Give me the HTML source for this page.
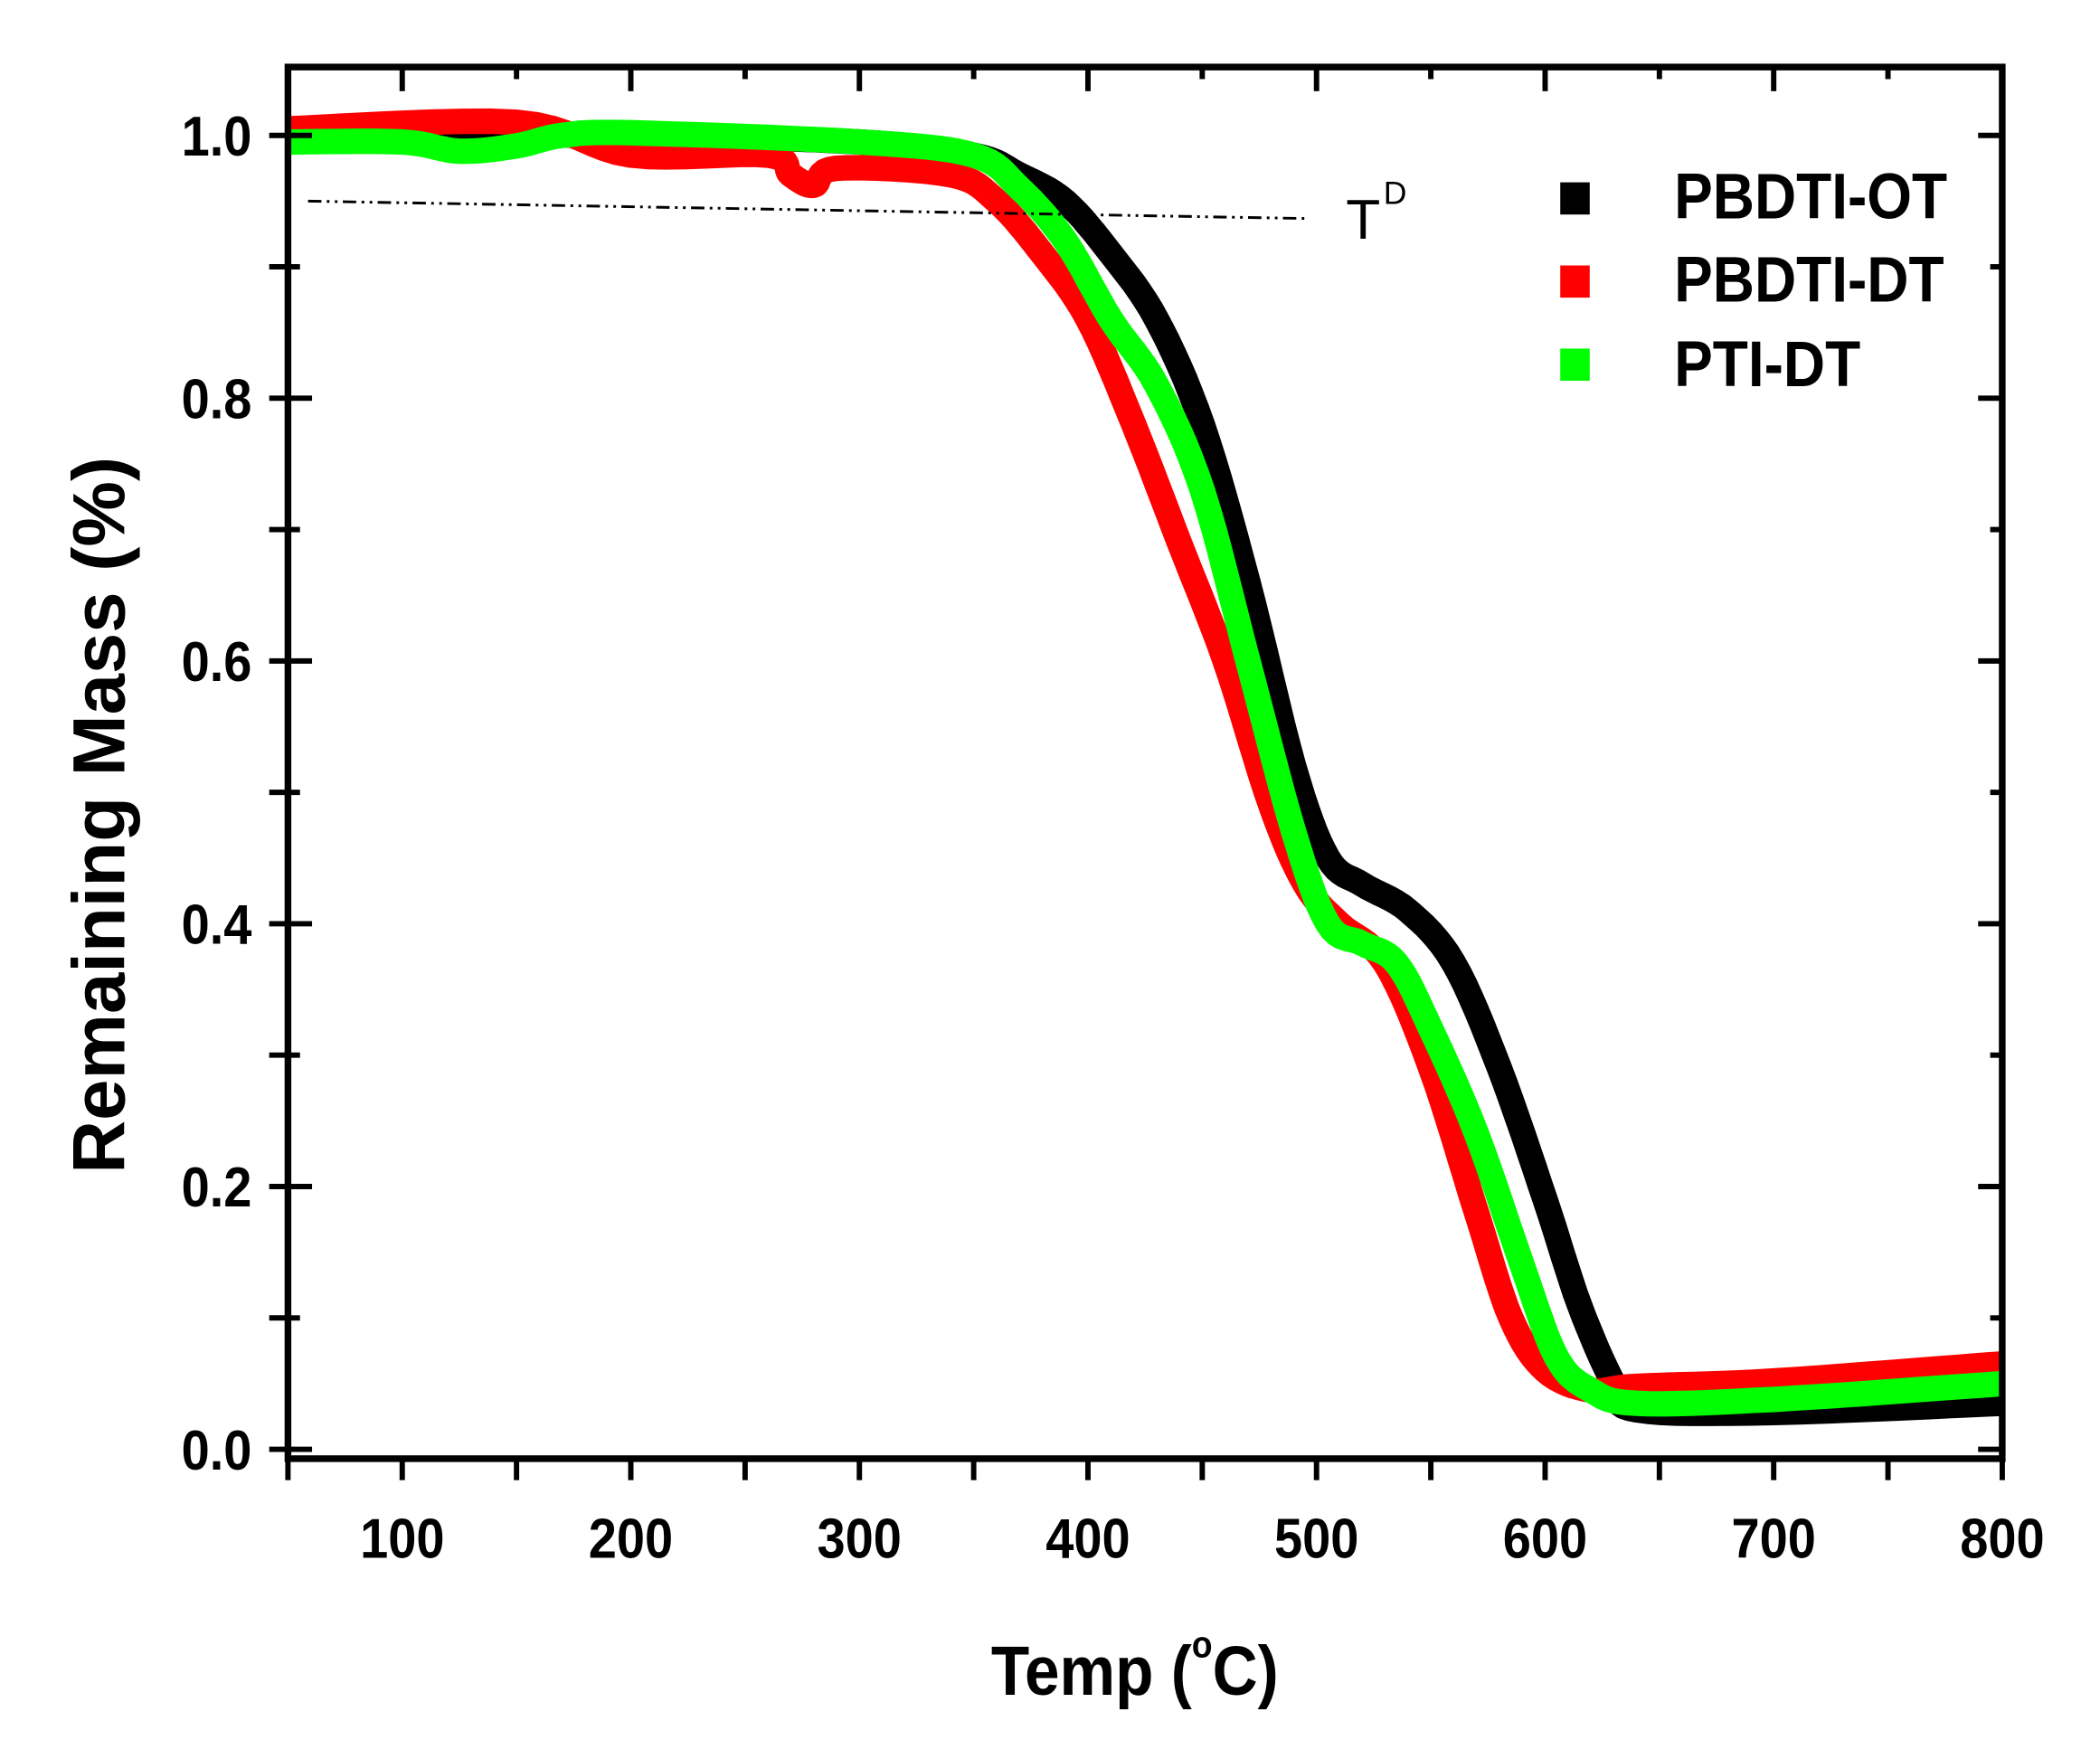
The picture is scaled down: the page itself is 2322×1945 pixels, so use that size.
<!DOCTYPE html>
<html><head><meta charset="utf-8"><style>html,body{margin:0;padding:0;background:#fff}svg{display:block}</style></head>
<body>
<svg id="s" width="2322" height="1945" viewBox="0 0 1568 1312" preserveAspectRatio="none" xmlns="http://www.w3.org/2000/svg" font-family="Liberation Sans, Arial, sans-serif">
<rect width="1568" height="1312" fill="#fff"/>
<g id="curves" fill="none" stroke-width="19" stroke-linejoin="round" stroke-linecap="butt"></g>
<line x1="230" y1="150" x2="976" y2="163" stroke="#000" stroke-width="2" stroke-dasharray="10,4,2,4,2,4"/>
<text x="1005" y="178" font-size="42" fill="#000">T</text>
<text x="1033" y="152" font-size="24" fill="#000">D</text>
<rect x="215" y="50" width="1280" height="1038" fill="none" stroke="#000" stroke-width="5"/>
<g id="ticks" stroke="#000" stroke-width="4"></g>
<g font-weight="bold" font-size="42" fill="#000" text-anchor="end" id="ylab"></g>
<g font-weight="bold" font-size="42" fill="#000" text-anchor="middle" id="xlab"></g>
<rect x="1165" y="136" width="22" height="24" fill="#000"/>
<rect x="1165" y="198" width="22" height="24" fill="#f00"/>
<rect x="1165" y="260" width="22" height="24" fill="#0f0"/>
<g font-weight="bold" font-size="48" fill="#000" transform="translate(1250,0) scale(0.9,1)">
<text x="0" y="163">PBDTI-OT</text>
<text x="0" y="225">PBDTI-DT</text>
<text x="0" y="288">PTI-DT</text>
</g>
<text font-weight="bold" font-size="55" fill="#000" text-anchor="middle" transform="translate(93,608) rotate(-90)">Remaining Mass (%)</text>
<g transform="translate(740,1264) scale(0.9,1)" font-weight="bold" fill="#000">
<text x="0" y="0" font-size="52">Temp (<tspan font-size="28" dy="-28">o</tspan><tspan dy="28">C)</tspan></text>
</g>
</svg>
<script>
var X=function(t){return 215+(t-50)*1.7067},Y=function(m){return 1081-m*980};
var ns="http://www.w3.org/2000/svg";
function smooth(d){var o=[];for(var i=0;i<d.length-1;i++){var p0=d[Math.max(i-1,0)],p1=d[i],p2=d[i+1],p3=d[Math.min(i+2,d.length-1)];for(var k=0;k<8;k++){var t=k/8,t2=t*t,t3=t2*t;var f=function(a,b,c,e){return 0.5*((2*b)+(-a+c)*t+(2*a-5*b+4*c-e)*t2+(-a+3*b-3*c+e)*t3)};o.push([f(p0[0],p1[0],p2[0],p3[0]),f(p0[1],p1[1],p2[1],p3[1])]);}}o.push(d[d.length-1]);return o;}
function pl(d,c){d=smooth(d);var p=document.createElementNS(ns,"polyline");p.setAttribute("points",d.map(function(a){return X(a[0]).toFixed(1)+","+Y(a[1]).toFixed(1)}).join(" "));p.setAttribute("stroke",c);document.getElementById("curves").appendChild(p);}
pl([[50,1.0],[200,1.0],[300,0.995],[350,0.985],[370,0.97],[390,0.95],[410,0.91],[430,0.86],[450,0.78],[470,0.66],[490,0.52],[505,0.45],[520,0.43],[540,0.41],[560,0.37],[580,0.29],[600,0.19],[615,0.11],[630,0.05],[640,0.03],[700,0.028],[800,0.035]],"#000");
pl([[50,1.005],[150,1.01],[200,0.985],[260,0.985],[270,0.97],[280,0.962],[290,0.975],[340,0.97],[360,0.95],[380,0.91],[400,0.86],[420,0.78],[440,0.69],[460,0.6],[480,0.49],[495,0.43],[510,0.4],[530,0.37],[550,0.29],[570,0.18],[585,0.1],[600,0.06],[620,0.045],[640,0.048],[700,0.052],[800,0.065]],"#f00");
pl([[50,0.995],[100,0.995],[125,0.988],[150,0.992],[170,1.0],[200,1.002],[300,0.995],[350,0.985],[370,0.96],[390,0.92],[410,0.86],[430,0.81],[450,0.73],[470,0.6],[490,0.47],[505,0.4],[520,0.385],[535,0.37],[550,0.32],[570,0.24],[590,0.14],[605,0.07],[620,0.045],[640,0.035],[700,0.038],[800,0.05]],"#0f0");
var tk=document.getElementById("ticks"),yl=document.getElementById("ylab"),xl=document.getElementById("xlab");
function ln(a,b,c,d){var l=document.createElementNS(ns,"line");l.setAttribute("x1",a);l.setAttribute("y1",b);l.setAttribute("x2",c);l.setAttribute("y2",d);tk.appendChild(l);}
function tx(g,x,y,s){var t=document.createElementNS(ns,"text");t.setAttribute("transform","translate("+x+","+y+") scale(0.9,1)");t.textContent=s;g.appendChild(t);}
for(var i=0;i<=10;i++){var y=Y(i*0.1),L=i%2==0?18:9;ln(201,y,215,y);ln(1495-L,y,1495,y);ln(215,y,215+L,y);if(i%2==0)tx(yl,188,y+15,(i/10).toFixed(1));}
for(var t=50;t<=800;t+=50){var x=X(t),L=t%100==0?18:9;ln(x,1088,x,1104);ln(x,50,x,50+L);if(t%100==0)tx(xl,x,1162,t);}
</script>
</body></html>
